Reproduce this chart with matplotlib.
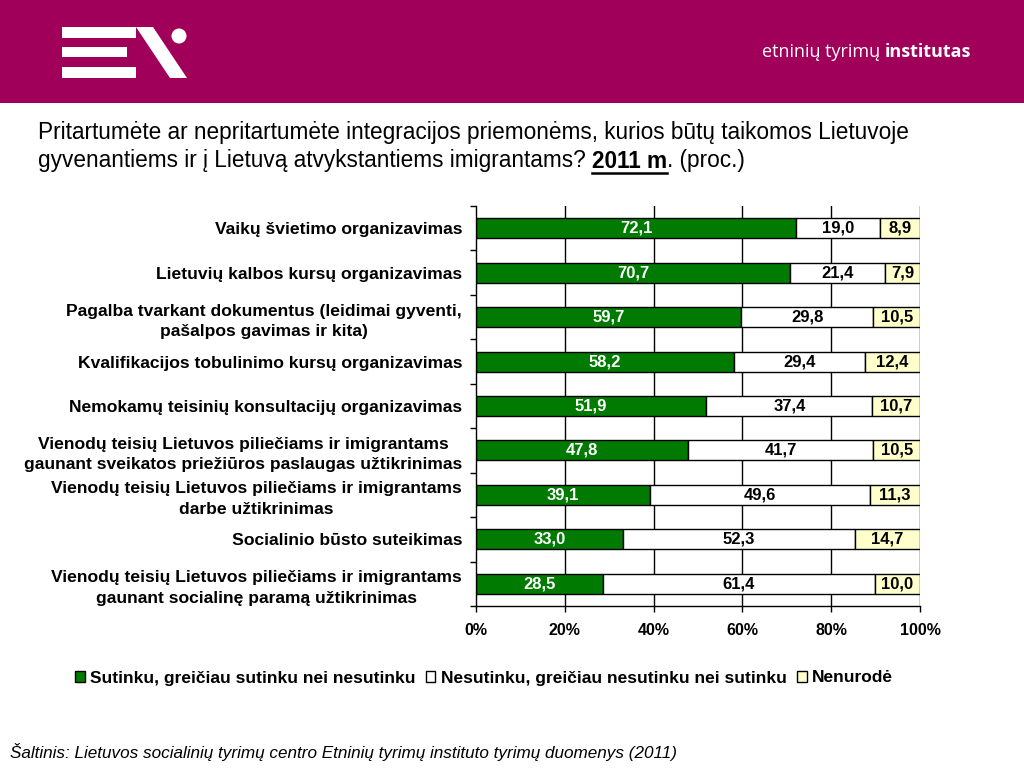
import matplotlib
matplotlib.use("Agg")
import matplotlib.pyplot as plt
from matplotlib.patches import Rectangle, Polygon, Ellipse
from matplotlib.lines import Line2D
import numpy as np

plt.rcParams['font.family'] = ['Liberation Sans', 'DejaVu Sans']

categories = [
    "Vaikų švietimo organizavimas",
    "Lietuvių kalbos kursų organizavimas",
    "Pagalba tvarkant dokumentus (leidimai gyventi,\npašalpos gavimas ir kita)",
    "Kvalifikacijos tobulinimo kursų organizavimas",
    "Nemokamų teisinių konsultacijų organizavimas",
    "Vienodų teisių Lietuvos piliečiams ir imigrantams\ngaunant sveikatos priežiūros paslaugas užtikrinimas",
    "Vienodų teisių Lietuvos piliečiams ir imigrantams\ndarbe užtikrinimas",
    "Socialinio būsto suteikimas",
    "Vienodų teisių Lietuvos piliečiams ir imigrantams\ngaunant socialinę paramą užtikrinimas",
]
agree = [72.1, 70.7, 59.7, 58.2, 51.9, 47.8, 39.1, 33.0, 28.5]
disagree = [19.0, 21.4, 29.8, 29.4, 37.4, 41.7, 49.6, 52.3, 61.4]
no_answer = [8.9, 7.9, 10.5, 12.4, 10.7, 10.5, 11.3, 14.7, 10.0]
series_names = ["Sutinku, greičiau sutinku nei nesutinku",
                "Nesutinku, greičiau nesutinku nei sutinku",
                "Nenurodė"]
xticks = [0, 20, 40, 60, 80, 100]
xticklabels = ["0%", "20%", "40%", "60%", "80%", "100%"]

W, H = 1024, 768
fig = plt.figure(figsize=(W / 100, H / 100), dpi=100)

def fx(px): return px / W
def fy(py): return 1 - py / H

# Header band
mag = '#A0005A'
fig.patches.append(Rectangle((0, fy(103)), 1, 103 / H, transform=fig.transFigure,
                             facecolor=mag, edgecolor='none', zorder=0))
# logo
for (x0, y0, x1, y1) in [(62, 27, 136, 38), (62, 47, 127, 57), (62, 67, 136, 78)]:
    fig.patches.append(Rectangle((fx(x0), fy(y1)), (x1 - x0) / W, (y1 - y0) / H,
                                 transform=fig.transFigure, facecolor='white',
                                 edgecolor='none', zorder=1))
fig.patches.append(Polygon([(fx(136), fy(27)), (fx(153), fy(27)), (fx(187), fy(78)),
                            (fx(170), fy(78))], closed=True, transform=fig.transFigure,
                           facecolor='white', edgecolor='none', zorder=1))
fig.patches.append(Ellipse((fx(179), fy(36)), 15 / W, 15 / H, transform=fig.transFigure,
                           facecolor='white', edgecolor='none', zorder=1))

fig.canvas.draw()
renderer = fig.canvas.get_renderer()

t1 = fig.text(fx(762), fy(52), "etninių tyrimų ", color='white', fontsize=13,
              family=['Open Sans', 'DejaVu Sans'], va='center', ha='left')
bb = t1.get_window_extent(renderer)
fig.text(bb.x1 / W, fy(52), "institutas", color='white', fontsize=13, fontweight='bold',
         family=['Open Sans', 'DejaVu Sans'], va='center', ha='left')

# Title
tsize = 16.3
fig.text(fx(38), fy(133), "Pritartumėte ar nepritartumėte integracijos priemonėms, kurios būtų taikomos Lietuvoje",
         fontsize=tsize, va='center', ha='left')
p1 = fig.text(fx(38), fy(161), "gyvenantiems ir į Lietuvą atvykstantiems imigrantams? ",
              fontsize=tsize, va='center', ha='left')
b1 = p1.get_window_extent(renderer)
p2 = fig.text(b1.x1 / W, fy(161), "2011 m", fontsize=tsize, fontweight='bold',
              va='center', ha='left')
b2 = p2.get_window_extent(renderer)
fig.text(b2.x1 / W, fy(161), ". (proc.)", fontsize=tsize, va='center', ha='left')
fig.lines.append(Line2D([b2.x0 / W, b2.x1 / W], [b2.y0 / H, b2.y0 / H],
                        transform=fig.transFigure, color='black', lw=1.8))

# Axes
ax = fig.add_axes([fx(476), fy(606), (920 - 476) / W, (606 - 206) / H])
n = len(categories)
y = np.arange(n)
bh = 0.45
green = '#007A00'
yellow = '#FFFFCC'
ag = np.array(agree); dg = np.array(disagree); na = np.array(no_answer)
ax.barh(y, ag, height=bh, color=green, edgecolor='black', lw=1, zorder=3)
ax.barh(y, dg, left=ag, height=bh, color='white', edgecolor='black', lw=1, zorder=3)
ax.barh(y, na, left=ag + dg, height=bh, color=yellow, edgecolor='black', lw=1, zorder=3)

vf = dict(fontsize=12, fontweight='bold', va='center', ha='center', zorder=4)
for i in range(n):
    ax.text(ag[i] / 2, y[i], f"{ag[i]:.1f}".replace('.', ','), color='white', **vf)
    ax.text(ag[i] + dg[i] / 2, y[i], f"{dg[i]:.1f}".replace('.', ','), color='black', **vf)
    ax.text(ag[i] + dg[i] + na[i] / 2, y[i], f"{na[i]:.1f}".replace('.', ','), color='black', **vf)

ax.set_xlim(0, 100)
ax.set_ylim(n - 0.5, -0.5)
ax.set_xticks(xticks)
ax.set_xticklabels(xticklabels, fontsize=11.5, fontweight='bold')
ax.tick_params(axis='x', length=4, width=1, pad=8, direction='out')
ax.set_yticks(y)
ax.set_yticklabels(categories, fontsize=12.6, fontweight='bold', multialignment='center',
                   linespacing=1.45)
ax.tick_params(axis='y', which='major', length=0, pad=10)
ax.set_yticks(np.arange(-0.5, n, 1), minor=True)
ax.tick_params(axis='y', which='minor', length=4, width=1, direction='out')
for x in xticks[1:]:
    ax.axvline(x, color='black', lw=1, zorder=1)
for s in ['top', 'right']:
    ax.spines[s].set_visible(False)
for s in ['left', 'bottom']:
    ax.spines[s].set_linewidth(1)
    ax.spines[s].set_zorder(5)

# Legend
handles = [Rectangle((0, 0), 1, 1, facecolor=c, edgecolor='black', lw=1)
           for c in [green, 'white', yellow]]
fig.legend(handles, series_names, loc='center', bbox_to_anchor=(fx(484), fy(678)),
           ncol=3, frameon=False, handlelength=0.55, handleheight=0.55,
           handletextpad=0.3, columnspacing=0.6,
           prop=dict(size=12.5, weight='bold'))

# Source
fig.text(fx(10), fy(752), "Šaltinis: Lietuvos socialinių tyrimų centro Etninių tyrimų instituto tyrimų duomenys (2011)",
         fontsize=12.3, style='italic', va='center', ha='left')

fig.savefig("out.png", dpi=100)
